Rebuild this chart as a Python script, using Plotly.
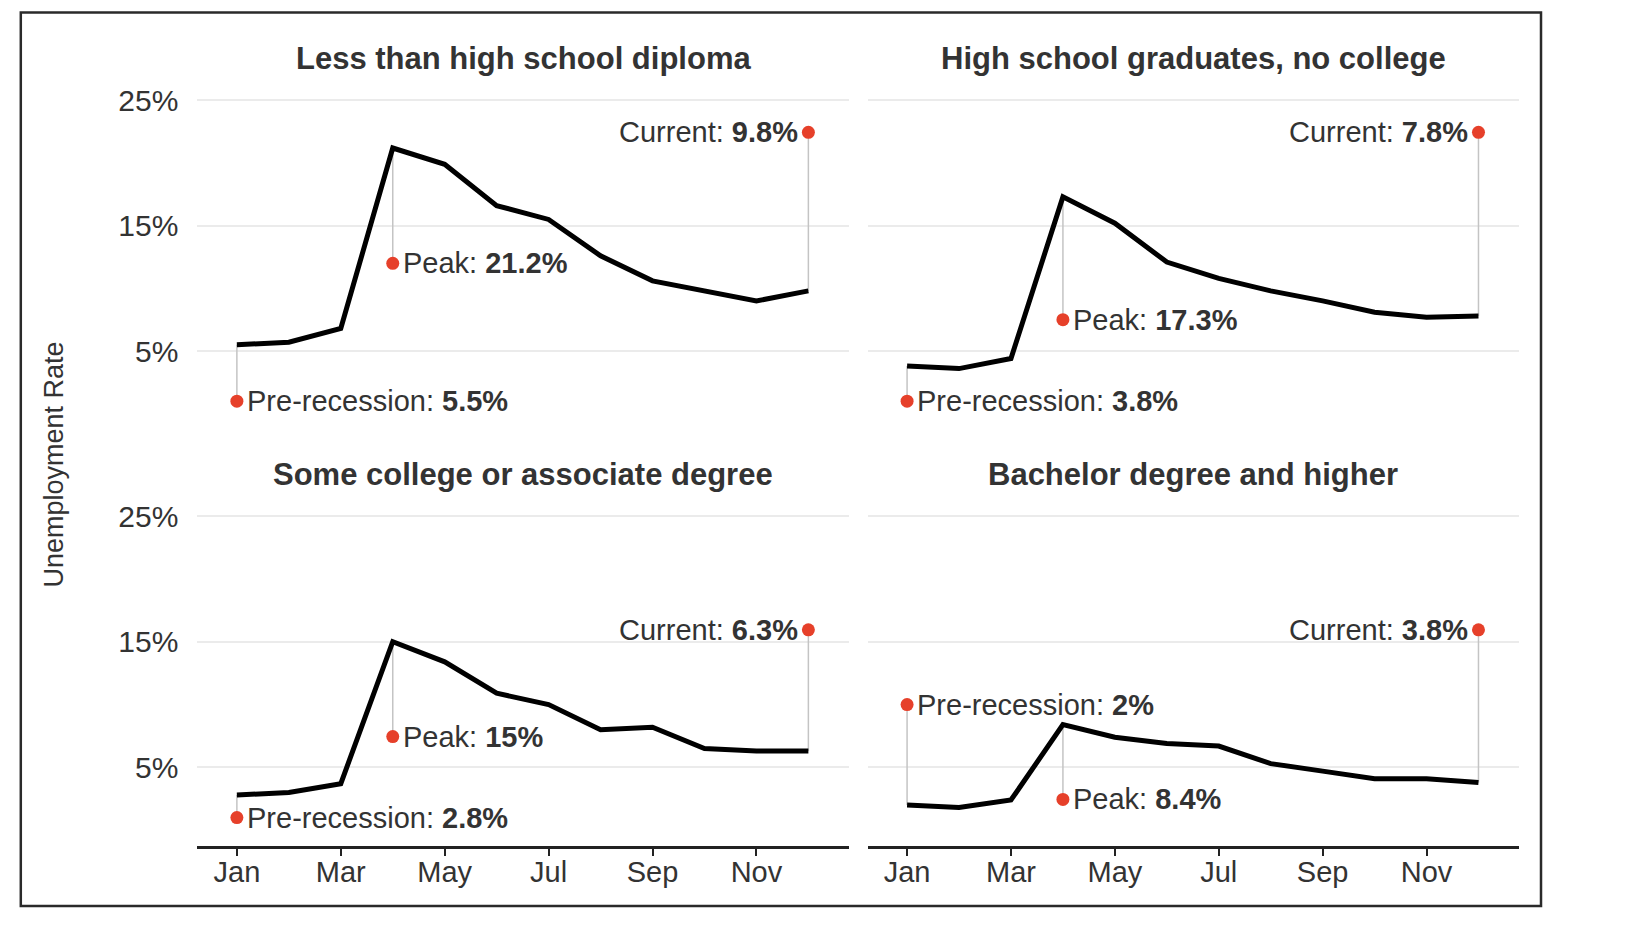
import plotly.graph_objects as go

# ---------------- data ----------------
months = ["Jan", "Feb", "Mar", "Apr", "May", "Jun", "Jul", "Aug", "Sep", "Oct", "Nov", "Dec"]
tick_months = ["Jan", "Mar", "May", "Jul", "Sep", "Nov"]

panel_titles = [
    "Less than high school diploma",
    "High school graduates, no college",
    "Some college or associate degree",
    "Bachelor degree and higher",
]

less_than_hs = [5.5, 5.7, 6.8, 21.2, 19.9, 16.6, 15.5, 12.6, 10.6, 9.8, 9.0, 9.8]
hs_grad = [3.8, 3.6, 4.4, 17.3, 15.2, 12.1, 10.8, 9.8, 9.0, 8.1, 7.7, 7.8]
some_college = [2.8, 3.0, 3.7, 15.0, 13.4, 10.9, 10.0, 8.0, 8.2, 6.5, 6.3, 6.3]
bachelor = [2.0, 1.8, 2.4, 8.4, 7.4, 6.9, 6.7, 5.3, 4.7, 4.1, 4.1, 3.8]
series = [less_than_hs, hs_grad, some_college, bachelor]

# labelled values
pre_values = [5.5, 3.8, 2.8, 2]
peak_values = [21.2, 17.3, 15, 8.4]
current_values = [9.8, 7.8, 6.3, 3.8]

# where the label dots sit (y, in % units)
pre_dot_y = [1.0, 1.0, 1.0, 10.0]
peak_dot_y = [12.0, 7.5, 7.45, 2.45]
current_dot_y = [22.45, 22.45, 15.95, 15.95]

y_ticks = [5, 15, 25]
y_tick_text = ["5%", "15%", "25%"]

# ---------------- style ----------------
FONT = "Liberation Sans, Arial, Helvetica, sans-serif"
TXT = "#333333"
RED = "#e6402a"
W, H = 1629, 931

xdom = [[197.4 / W, 848.9 / W], [867.6 / W, 1519.0 / W]]
ydom_top = [1 - 429.0 / H, 1 - 75.3 / H]
ydom_bot = [1 - 845.5 / H, 1 - 491.0 / H]
x_range = [-0.76, 11.78]
y_range = [-1.22, 27.0]

LABEL_SIZE = 29

fig = go.Figure()
layout = dict(
    width=W, height=H,
    margin=dict(l=0, r=0, t=0, b=0),
    paper_bgcolor="white", plot_bgcolor="white",
    showlegend=False,
    font=dict(family=FONT, color=TXT),
)

annotations = []
shapes = []

xi = list(range(len(months)))
for p in range(4):
    n = "" if p == 0 else str(p + 1)
    xa, ya = "x" + n, "y" + n
    col = p % 2
    row = p // 2
    bottom = row == 1
    left = col == 0
    layout["xaxis" + n] = dict(
        domain=xdom[col], range=x_range, anchor=ya,
        showgrid=False, zeroline=False,
        showline=bottom, linecolor="#222222", linewidth=3,
        ticks="outside" if bottom else "", ticklen=7, tickwidth=2, tickcolor="#222222",
        tickvals=[months.index(m) for m in tick_months], ticktext=tick_months,
        showticklabels=bottom,
        ticklabelstandoff=-8,
        tickfont=dict(size=29, color=TXT, family=FONT),
        fixedrange=True,
    )
    layout["yaxis" + n] = dict(
        domain=ydom_bot if bottom else ydom_top, range=y_range, anchor=xa,
        showgrid=True, gridcolor="#ebebeb", gridwidth=2,
        zeroline=False, showline=False,
        tickvals=y_ticks, ticktext=y_tick_text,
        showticklabels=left, ticks="",
        ticklabelstandoff=18,
        tickfont=dict(size=30, color=TXT, family=FONT),
        fixedrange=True,
    )

    vals = series[p]
    # connector segments (value -> label dot)
    seg_x = [0, 0, None, 3, 3, None, 11, 11]
    seg_y = [vals[0], pre_dot_y[p], None, vals[3], peak_dot_y[p], None, vals[11], current_dot_y[p]]
    fig.add_trace(go.Scatter(x=seg_x, y=seg_y, mode="lines", xaxis=xa, yaxis=ya,
                             line=dict(color="#c4c4c4", width=1.5), hoverinfo="skip"))
    # main line
    fig.add_trace(go.Scatter(x=xi, y=vals, mode="lines", xaxis=xa, yaxis=ya,
                             line=dict(color="black", width=5)))
    # label dots
    fig.add_trace(go.Scatter(x=[0, 3, 11], y=[pre_dot_y[p], peak_dot_y[p], current_dot_y[p]],
                             mode="markers", xaxis=xa, yaxis=ya,
                             marker=dict(color=RED, size=13)))

    annotations.append(dict(x=0, y=pre_dot_y[p], xref=xa, yref=ya, showarrow=False,
                            xanchor="left", yanchor="middle", xshift=8,
                            text="Pre-recession: <b>%g%%</b>" % pre_values[p],
                            font=dict(size=LABEL_SIZE, color=TXT, family=FONT)))
    annotations.append(dict(x=3, y=peak_dot_y[p], xref=xa, yref=ya, showarrow=False,
                            xanchor="left", yanchor="middle", xshift=8,
                            text="Peak: <b>%g%%</b>" % peak_values[p],
                            font=dict(size=LABEL_SIZE, color=TXT, family=FONT)))
    annotations.append(dict(x=11, y=current_dot_y[p], xref=xa, yref=ya, showarrow=False,
                            xanchor="right", yanchor="middle", xshift=-8,
                            text="Current: <b>%g%%</b>" % current_values[p],
                            font=dict(size=LABEL_SIZE, color=TXT, family=FONT)))
    # panel title
    annotations.append(dict(x=(xdom[col][0] + xdom[col][1]) / 2,
                            y=1 - (58.0 if row == 0 else 474.5) / H,
                            xref="paper", yref="paper", showarrow=False,
                            xanchor="center", yanchor="middle",
                            text="<b>%s</b>" % panel_titles[p],
                            font=dict(size=31, color=TXT, family=FONT)))

annotations.append(dict(x=54.0 / W, y=1 - 464.5 / H, xref="paper", yref="paper",
                        showarrow=False, textangle=-90, xanchor="center", yanchor="middle",
                        text="Unemployment Rate", font=dict(size=27, color=TXT, family=FONT)))

shapes.append(dict(type="rect", xref="paper", yref="paper",
                   x0=20.8 / W, x1=1541.0 / W, y0=1 - 906.0 / H, y1=1 - 12.5 / H,
                   line=dict(color="#2a2a2a", width=2.5), fillcolor="rgba(0,0,0,0)"))

layout["annotations"] = annotations
layout["shapes"] = shapes
fig.update_layout(**layout)
fig.write_html("out.html")
